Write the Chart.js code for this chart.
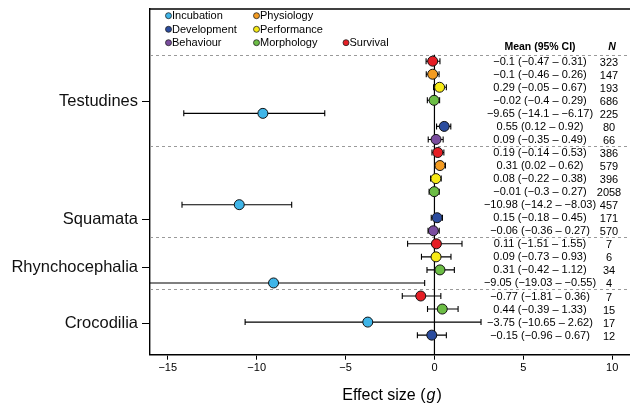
<!DOCTYPE html>
<html><head><meta charset="utf-8">
<script src="https://cdn.jsdelivr.net/npm/chart.js@4.4.1/dist/chart.umd.min.js"></script>
<style>html,body{margin:0;padding:0;background:#fff}#wrap{width:630px;height:407px}</style>
</head><body><div id="wrap"><canvas id="c" width="630" height="407"></canvas></div>
<script>
const groups = ['Testudines', 'Squamata', 'Rhynchocephalia', 'Crocodilia'];
const groupTickRows = [3.1, 12.1, 15.85, 20.1];
const groupSeparators = [-0.5, 6.5, 13.5, 17.5];
const categories = ['Incubation', 'Development', 'Behaviour', 'Physiology', 'Performance', 'Morphology', 'Survival'];
const categoryColors = ['#3fb5e8', '#2b4c9e', '#7a4d9f', '#f39b21', '#f6ea16', '#6cbd45', '#e51e25'];
const xTicks = [-15, -10, -5, 0, 5, 10];

const rowCategory = [
  'Survival', 'Physiology', 'Performance', 'Morphology', 'Incubation', 'Development', 'Behaviour',
  'Survival', 'Physiology', 'Performance', 'Morphology', 'Incubation', 'Development', 'Behaviour',
  'Survival', 'Performance', 'Morphology', 'Incubation',
  'Survival', 'Morphology', 'Incubation', 'Development'
];
const means = [-0.1, -0.1, 0.29, -0.02, -9.65, 0.55, 0.09,
  0.19, 0.31, 0.08, -0.01, -10.98, 0.15, -0.06,
  0.11, 0.09, 0.31, -9.05,
  -0.77, 0.44, -3.75, -0.15];
const lowers = [-0.47, -0.46, -0.05, -0.4, -14.1, 0.12, -0.35,
  -0.14, 0.02, -0.22, -0.3, -14.2, -0.18, -0.36,
  -1.51, -0.73, -0.42, -19.03,
  -1.81, -0.39, -10.65, -0.96];
const uppers = [0.31, 0.26, 0.67, 0.29, -6.17, 0.92, 0.49,
  0.53, 0.62, 0.38, 0.27, -8.03, 0.45, 0.27,
  1.55, 0.93, 1.12, -0.55,
  0.36, 1.33, 2.62, 0.67];
const sampleSizes = [323, 147, 193, 686, 225, 80, 66,
  386, 579, 396, 2058, 457, 171, 570,
  7, 6, 34, 4,
  7, 15, 17, 12];

const FONT = "'Liberation Sans', Arial, Helvetica, sans-serif";
const fmt = v => (v < 0 ? '\u2212' + String(Math.abs(v)) : String(v));

const datasets = categories.map((cat, ci) => ({
  label: cat,
  data: means.map((m, i) => ({ x: m, y: i })).filter((p, i) => rowCategory[i] === cat),
  backgroundColor: categoryColors[ci],
  borderColor: '#111',
  borderWidth: 1,
  pointRadius: 5,
  pointHoverRadius: 5
}));

const zeroPad = s => { s.paddingTop = 0; s.paddingBottom = 0; s.paddingLeft = 0; s.paddingRight = 0; };

const overlay = {
  id: 'overlay',
  beforeDatasetsDraw(chart) {
    const { ctx, chartArea: a, scales: { x, y } } = chart;
    ctx.save();
    ctx.strokeStyle = '#9a9a9a';
    ctx.lineWidth = 1;
    ctx.setLineDash([3, 3]);
    groupSeparators.forEach(r => {
      const yy = Math.round(y.getPixelForValue(r)) + 0.5;
      ctx.beginPath(); ctx.moveTo(a.left, yy); ctx.lineTo(a.right, yy); ctx.stroke();
    });
    ctx.setLineDash([]);
    ctx.strokeStyle = '#000';
    ctx.lineWidth = 1.2;
    const x0 = x.getPixelForValue(0);
    ctx.beginPath(); ctx.moveTo(x0, y.getPixelForValue(groupSeparators[0])); ctx.lineTo(x0, a.bottom); ctx.stroke();
    ctx.beginPath(); ctx.rect(a.left, a.top, a.right - a.left, a.bottom - a.top); ctx.clip();
    ctx.lineWidth = 1.1;
    means.forEach((m, i) => {
      const yy = y.getPixelForValue(i);
      const xl = x.getPixelForValue(lowers[i]);
      const xh = x.getPixelForValue(uppers[i]);
      ctx.beginPath();
      ctx.moveTo(xl, yy); ctx.lineTo(xh, yy);
      ctx.moveTo(xl, yy - 3); ctx.lineTo(xl, yy + 3);
      ctx.moveTo(xh, yy - 3); ctx.lineTo(xh, yy + 3);
      ctx.stroke();
    });
    ctx.restore();
  },
  afterDraw(chart) {
    const { ctx, chartArea: a, scales: { x, y } } = chart;
    ctx.save();
    ctx.strokeStyle = '#000';
    ctx.lineWidth = 1.5;
    ctx.beginPath(); ctx.moveTo(a.left - 0.75, a.top); ctx.lineTo(a.right, a.top); ctx.stroke();
    const legendCols = [168.5, 256.5, 346];
    const legendRows = [15.7, 29.3, 42.7];
    const legendPos = {
      Incubation: [0, 0], Development: [0, 1], Behaviour: [0, 2],
      Physiology: [1, 0], Performance: [1, 1], Morphology: [1, 2], Survival: [2, 2]
    };
    ctx.font = '11px ' + FONT;
    ctx.textBaseline = 'middle';
    ctx.textAlign = 'left';
    categories.forEach((cat, ci) => {
      const [c, r] = legendPos[cat];
      const lx = legendCols[c], ly = legendRows[r];
      ctx.beginPath(); ctx.arc(lx, ly, 3, 0, Math.PI * 2);
      ctx.fillStyle = categoryColors[ci]; ctx.fill();
      ctx.lineWidth = 0.8; ctx.strokeStyle = '#222'; ctx.stroke();
      ctx.fillStyle = '#000';
      ctx.fillText(cat, lx + 3.5, ly + 0.5);
    });
    const meanX = 540, nX = 609;
    ctx.textAlign = 'center';
    ctx.font = 'bold 10.5px ' + FONT;
    ctx.fillText('Mean (95% CI)', meanX, 47.5);
    ctx.font = 'italic bold 10.5px ' + FONT;
    ctx.fillText('N', nX + 3, 47.5);
    ctx.font = '11px ' + FONT;
    means.forEach((m, i) => {
      const yy = y.getPixelForValue(i) + 0.5;
      ctx.fillText(fmt(m) + ' (' + fmt(lowers[i]) + ' \u2013 ' + fmt(uppers[i]) + ')', meanX, yy);
      ctx.fillText(String(sampleSizes[i]), nX, yy + 1);
    });
    const t1 = 'Effect size (', t2 = 'g', t3 = ')';
    ctx.font = '16px ' + FONT;
    const w1 = ctx.measureText(t1).width, w3 = ctx.measureText(t3).width;
    ctx.font = 'italic 16px ' + FONT;
    const w2 = ctx.measureText(t2).width + 2;
    const total = w1 + w2 + w3;
    let tx = 392 - total / 2;
    const ty = 396;
    ctx.textAlign = 'left';
    ctx.font = '16px ' + FONT; ctx.fillText(t1, tx, ty); tx += w1;
    ctx.font = 'italic 16px ' + FONT; ctx.fillText(t2, tx + 1, ty); tx += w2;
    ctx.font = '16px ' + FONT; ctx.fillText(t3, tx, ty);
    ctx.restore();
  }
};

new Chart(document.getElementById('c'), {
  type: 'scatter',
  data: { datasets },
  options: {
    responsive: false,
    animation: false,
    events: [],
    layout: { autoPadding: false, padding: { top: 9, right: 0, left: 0, bottom: 0 } },
    plugins: { legend: { display: false }, tooltip: { enabled: false } },
    scales: {
      x: {
        type: 'linear', min: -16, max: 11,
        afterBuildTicks: s => { s.ticks = xTicks.map(v => ({ value: v })); },
        afterFit: s => { s.height = 52.3; zeroPad(s); },
        grid: { drawOnChartArea: false, drawTicks: true, tickLength: 5, color: '#000', lineWidth: 1 },
        border: { color: '#000', width: 1.6 },
        ticks: { color: '#000', font: { family: FONT, size: 11 }, padding: 2, maxRotation: 0, callback: v => fmt(v) }
      },
      y: {
        type: 'linear', reverse: true, min: -4, max: 22.5,
        afterBuildTicks: s => { s.ticks = groupTickRows.map(v => ({ value: v })); },
        afterFit: s => { s.width = 150; zeroPad(s); },
        grid: { drawOnChartArea: false, drawTicks: true, tickLength: 8, color: '#000', lineWidth: 1 },
        border: { color: '#000', width: 1.4 },
        ticks: { color: '#111', font: { family: FONT, size: 16.5 }, padding: 4, callback: (v, i) => groups[i] }
      }
    }
  },
  plugins: [overlay]
});
</script>
</body></html>
